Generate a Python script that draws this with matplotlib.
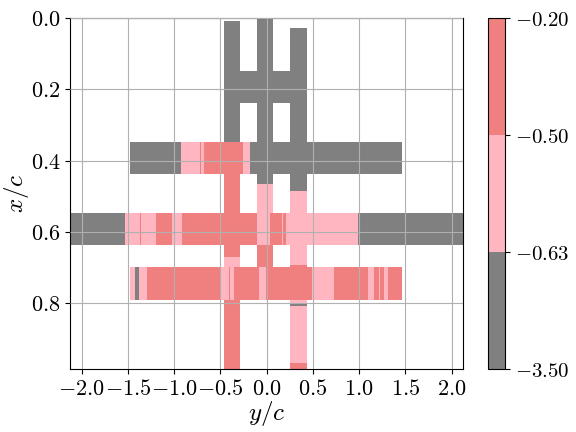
import numpy as np
import matplotlib
matplotlib.use("Agg")
import matplotlib.pyplot as plt
from matplotlib.colors import ListedColormap, BoundaryNorm
from matplotlib.ticker import FuncFormatter

plt.rcParams['mathtext.fontset'] = 'cm'
plt.rcParams['font.size'] = 16

# pressure classes (one representative value per colour band)
G, P, C = -1.0, -0.56, -0.35
levels = [-3.5, -0.63, -0.5, -0.2]
band_colors = ['gray', 'lightpink', 'lightcoral']

# horizontal strips: y range, x edges, values
strip1_y = [0.348, 0.438]
strip1_x = [-1.475, -0.921, -0.715, -0.704, -0.674, -0.252, -0.176, 1.469]
strip1_v = [G, P, C, P, C, P, G]

strip2_y = [0.548, 0.638]
strip2_x = [-2.125, -1.525, -1.366, -1.355, -1.193, -1.020, -0.912, -0.101,
            0.040, 0.170, 0.181, 0.213, 0.992, 2.125]
strip2_v = [G, P, C, P, C, P, C, P, C, P, C, P, G]

strip3_y = [0.700, 0.790]
strip3_x = [-1.475, -1.421, -1.377, -1.291, -0.490, -0.404, -0.393, -0.350,
            -0.079, -0.003, 0.496, 0.724, 1.092, 1.157, 1.212, 1.222, 1.265,
            1.308, 1.469]
strip3_v = [P, G, P, C, P, C, P, C, P, C, P, C, P, C, P, C, P, C]

link_y = [0.149, 0.238]
link_x = [-0.458, 0.440]
link_v = [G]

# vertical strips: x range, y edges, values
stemA_x = [-0.458, -0.285]
stemA_y = [0.0076, 0.348, 0.672, 0.700, 0.985]
stemA_v = [G, C, P, C]

stemB_x = [-0.100, 0.073]
stemB_y = [0.002, 0.467, 0.548, 0.638, 0.700]
stemB_v = [G, P, P, C]

stemC_x = [0.257, 0.440]
stemC_y = [0.027, 0.486, 0.692, 0.790, 0.802, 0.808, 0.968, 0.985]
stemC_v = [G, P, C, P, G, P, C]

cmap = ListedColormap(band_colors)
norm = BoundaryNorm(levels, cmap.N)

fig = plt.figure(figsize=(5.76, 4.32), dpi=100)
ax = fig.add_axes([0.1215, 0.1458, 0.6825, 0.8125])

kw = dict(cmap=cmap, norm=norm, edgecolor='none', linewidth=0, antialiased=False)
for sx, sy, sv in [(stemA_x, stemA_y, stemA_v), (stemB_x, stemB_y, stemB_v),
                   (stemC_x, stemC_y, stemC_v)]:
    ax.pcolormesh(sx, sy, np.array(sv)[:, None], zorder=1.2, **kw)
mesh = None
for sx, sy, sv in [(strip1_x, strip1_y, strip1_v), (strip2_x, strip2_y, strip2_v),
                   (strip3_x, strip3_y, strip3_v), (link_x, link_y, link_v)]:
    mesh = ax.pcolormesh(sx, sy, np.array([sv]), zorder=1.5, **kw)

ax.set_xlim(-2.125, 2.125)
ax.set_ylim(0.985, 0.0)
ax.set_xticks([-2.0, -1.5, -1.0, -0.5, 0.0, 0.5, 1.0, 1.5, 2.0])
ax.set_yticks([0.0, 0.2, 0.4, 0.6, 0.8])
ax.xaxis.set_major_formatter(FuncFormatter(lambda v, p: f'${v:.1f}$'))
ax.yaxis.set_major_formatter(FuncFormatter(lambda v, p: f'${v:.1f}$'))
ax.set_axisbelow(False)
ax.grid(True, color='#b0b0b0', linewidth=0.8)
ax.set_xlabel('$y/c$', fontsize=18, labelpad=0)
ax.set_ylabel('$x/c$', fontsize=18, labelpad=0)

cax = fig.add_axes([0.847, 0.1458, 0.030, 0.8125])
cb = fig.colorbar(mesh, cax=cax, ticks=levels)
cb.ax.set_yticklabels([f'${v:.2f}$' for v in levels])
cb.ax.tick_params(labelsize=15)

fig.savefig('out.png', dpi=100)
